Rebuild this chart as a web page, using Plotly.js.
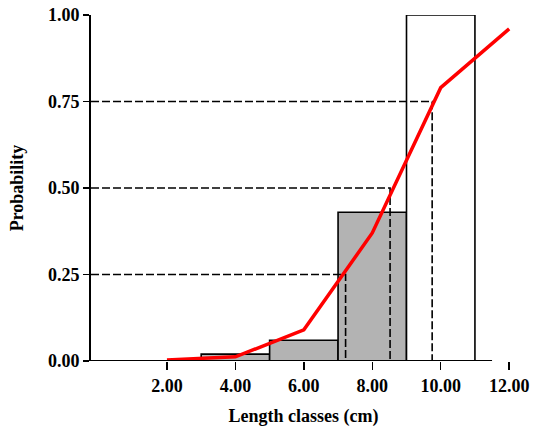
<!DOCTYPE html>
<html>
<head>
<meta charset="utf-8">
<script src="https://cdn.plot.ly/plotly-3.0.1.min.js"></script>
<style>html,body{margin:0;padding:0;background:#fff;}#chart{width:533px;height:430px;}</style>
</head>
<body>
<div id="chart"></div>
<script>
// Histogram of length classes (bar centres, cm) and relative probability
var classCentres = [4, 6, 8, 10];
var classProb = [0.02, 0.06, 0.43, 1.00];
var barColors = ['#b3b3b3', '#b3b3b3', '#b3b3b3', '#ffffff'];

// Cumulative curve (red)
var curveX = [2, 4, 6, 8, 10, 12];
var curveY = [0.003, 0.012, 0.09, 0.37, 0.79, 0.96];

// Quartile reference lines
var quartileP = [0.25, 0.50, 0.75];
var quartileX = [7.22, 8.52, 9.75];

var xTicks = [2, 4, 6, 8, 10, 12];
var yTicks = [0, 0.25, 0.5, 0.75, 1.0];

var xMin = -0.22, xMax = 12.2, xLineEnd = 11.5;

var traces = [];
traces.push({
  type: 'bar', x: classCentres, y: classProb, width: 2,
  marker: {color: barColors, line: {color: '#000', width: 1.6}},
  hoverinfo: 'skip', showlegend: false
});
for (var i = 0; i < quartileP.length; i++) {
  traces.push({
    type: 'scatter', mode: 'lines',
    x: [xMin, quartileX[i], quartileX[i]],
    y: [quartileP[i], quartileP[i], 0],
    line: {color: '#000', width: 1.6, dash: '8px,3px'},
    showlegend: false, hoverinfo: 'skip', cliponaxis: false
  });
}
traces.push({
  type: 'scatter', mode: 'lines', x: curveX, y: curveY,
  line: {color: '#ff0000', width: 3.5},
  showlegend: false, cliponaxis: false
});

var font = {family: '"Liberation Serif", "Times New Roman", serif', size: 18, color: '#000', weight: 'bold'};

var layout = {
  width: 533, height: 430,
  margin: {l: 91, r: 533 - 91 - (xMax - xMin) * 34.2, t: 15, b: 69},
  paper_bgcolor: '#fff', plot_bgcolor: '#fff',
  font: font,
  bargap: 0,
  xaxis: {
    range: [xMin, xMax], tickvals: xTicks, tickformat: '.2f',
    ticks: 'outside', ticklen: 8, tickwidth: 1.5, tickcolor: '#000',
    showline: false, showgrid: false, zeroline: false,
    tickfont: font,
    title: {text: 'Length classes (cm)', font: font, standoff: 14}
  },
  yaxis: {
    range: [0, 1], tickvals: yTicks, tickformat: '.2f',
    ticks: 'outside', ticklen: 6, tickwidth: 1.6, tickcolor: '#000',
    showline: true, linewidth: 2, linecolor: '#000',
    showgrid: false, zeroline: false,
    tickfont: font,
    title: {text: 'Probability', font: font, standoff: 20}
  },
  shapes: [{
    type: 'line', xref: 'x', yref: 'y', x0: xMin, x1: xLineEnd, y0: 0, y1: 0,
    line: {color: '#000', width: 2}, layer: 'above'
  }]
};

Plotly.newPlot('chart', traces, layout, {displayModeBar: false, staticPlot: true});
</script>
</body>
</html>
